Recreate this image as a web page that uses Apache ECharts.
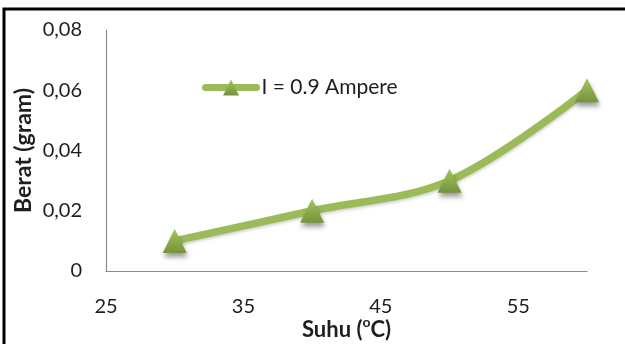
<!DOCTYPE html>
<html>
<head>
<meta charset="utf-8">
<script src="https://cdn.jsdelivr.net/npm/echarts@6/dist/echarts.min.js"></script>
<style>
  html, body { margin: 0; padding: 0; background: #fff; }
  #chart { width: 625px; height: 344px; }
</style>
</head>
<body>
<div id="chart"></div>
<script>
// Temperature (°C) against deposited weight (gram) at 0.9 A
const suhu = [30, 40, 50, 60];
const berat = [0.01, 0.02, 0.03, 0.06];
const seriesName = 'I = 0.9 Ampere';
const xTicks = [25, 35, 45, 55];
const yTicks = [0, 0.02, 0.04, 0.06, 0.08];
const yTickLabels = ['0', '0,02', '0,04', '0,06', '0,08'];

const FONT = 'Lato, "Open Sans", sans-serif';
const GREEN = '#9BBB59';
const INK = '#1e1e1e';

const chart = echarts.init(document.getElementById('chart'), null, { renderer: 'canvas' });

chart.setOption({
  animation: false,
  backgroundColor: '#fff',
  textStyle: { fontFamily: FONT },
  grid: { left: 106, right: 38, top: 30, bottom: 73, containLabel: false, outerBoundsMode: 'none' },
  graphic: [{
    type: 'rect',
    shape: { x: 4, y: 9, width: 700, height: 400 },
    style: { fill: 'none', stroke: '#000', lineWidth: 3 },
    silent: true,
    z: 100
  }],
  legend: {
    left: 202,
    top: 77,
    padding: 0,
    itemWidth: 51,
    itemHeight: 20,
    lineStyle: { width: 7, cap: 'round' },
    textStyle: { fontFamily: FONT, fontSize: 21, color: INK },
    data: [seriesName]
  },
  xAxis: {
    type: 'value',
    min: 25,
    max: 60,
    interval: 5,
    name: '{m|Suhu (}{sup|o}{m|C)}',
    nameLocation: 'middle',
    nameMoveOverlap: false,
    nameGap: 44,
    nameTextStyle: {
      fontFamily: FONT, fontSize: 22, fontWeight: 'bold', color: INK,
      rich: {
        m: { fontFamily: FONT, fontSize: 22, fontWeight: 'bold', color: INK, lineHeight: 26, verticalAlign: 'bottom' },
        sup: { fontFamily: FONT, fontSize: 14, fontWeight: 'bold', color: INK, lineHeight: 14, verticalAlign: 'top', padding: [0, 0, 12, 0] }
      }
    },
    axisLine: { show: true, lineStyle: { color: '#8c8c8c', width: 1.2 } },
    axisTick: { show: false },
    splitLine: { show: false },
    axisLabel: {
      customValues: xTicks,
      margin: 26,
      fontFamily: FONT, fontSize: 20, color: INK
    }
  },
  yAxis: {
    type: 'value',
    min: 0,
    max: 0.08,
    interval: 0.02,
    name: 'Berat (gram)',
    nameLocation: 'middle',
    nameRotate: 90,
    nameMoveOverlap: false,
    nameGap: 71,
    nameTextStyle: { fontFamily: FONT, fontSize: 23, fontWeight: 'bold', color: INK },
    axisLine: { show: true, lineStyle: { color: '#8c8c8c', width: 1.2 } },
    axisTick: { show: false },
    splitLine: { show: false },
    axisLabel: {
      margin: 24,
      fontFamily: FONT, fontSize: 20, color: INK,
      formatter: function (v) {
        const i = yTicks.findIndex(t => Math.abs(t - v) < 1e-9);
        return i >= 0 ? yTickLabels[i] : '';
      }
    }
  },
  series: [{
    name: seriesName,
    type: 'line',
    data: suhu.map((x, i) => [x, berat[i]]),
    smooth: 0.35,
    symbol: 'triangle',
    symbolSize: [24, 24],
    lineStyle: {
      color: GREEN, width: 7.5, cap: 'round',
      shadowColor: 'rgba(0,0,0,0.18)', shadowBlur: 3, shadowOffsetY: 2
    },
    itemStyle: {
      color: new echarts.graphic.LinearGradient(0, 0, 0, 1, [
        { offset: 0, color: '#a3c45f' },
        { offset: 1, color: '#76933a' }
      ]),
      borderWidth: 0,
      shadowColor: 'rgba(0,0,0,0.4)', shadowBlur: 5, shadowOffsetX: 1, shadowOffsetY: 4
    },
    z: 3
  }]
});
</script>
</body>
</html>
